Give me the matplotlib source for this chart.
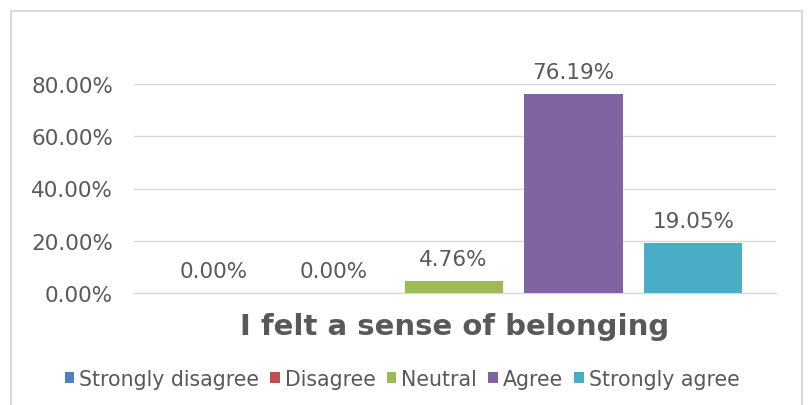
import matplotlib
matplotlib.use("Agg")
import matplotlib.pyplot as plt
from matplotlib.patches import Rectangle
from matplotlib.ticker import FuncFormatter, MultipleLocator

# Survey responses for one statement
question = "I felt a sense of belonging"
responses = ["Strongly disagree", "Disagree", "Neutral", "Agree", "Strongly agree"]
shares = [0.0, 0.0, 4.76, 76.19, 19.05]
colors = ["#4F81BD", "#C0504D", "#9BBB59", "#8064A2", "#4BACC6"]

text_color = "#595959"
grid_color = "#D9D9D9"

plt.rcParams["font.family"] = ["DejaVu Sans"]

W, H = 809, 406
fig = plt.figure(figsize=(W / 100, H / 100), dpi=100)

# Light chart-area border
fig.patches.append(Rectangle((11 / W, -0.02), (802 - 11) / W, 1 - 12 / H + 0.02,
                             transform=fig.transFigure, fill=False,
                             edgecolor="#D9D9D9", linewidth=1.5))

ax = fig.add_axes([134 / W, 1 - 294 / H, (776 - 134) / W, (294 - 85) / H])

positions = list(range(len(responses)))
bars = []
for pos, label, val, col in zip(positions, responses, shares, colors):
    b = ax.bar(pos, val / 100, width=0.82, color=col, label=label, zorder=3)
    bars.append(b)
    ax.annotate(f"{val:.2f}%", xy=(pos, val / 100), xytext=(0, 12),
                textcoords="offset pixels", ha="center", va="bottom",
                fontsize=15.5, color=text_color, annotation_clip=False)

ax.set_xlim(-0.668, 4.691)
ax.set_ylim(0, 0.8)
ax.yaxis.set_major_locator(MultipleLocator(0.2))
ax.yaxis.set_major_formatter(FuncFormatter(lambda v, _: f"{v * 100:.2f}%"))
ax.set_xticks([])
ax.tick_params(axis="y", length=0, pad=15, labelsize=15.5, labelcolor=text_color)
ax.grid(axis="y", color=grid_color, linewidth=1, zorder=0)
for side in ("top", "right", "left"):
    ax.spines[side].set_visible(False)
ax.spines["bottom"].set_color(grid_color)
ax.spines["bottom"].set_linewidth(1)

ax.set_xlabel(question, fontsize=21, fontweight="bold", color=text_color, labelpad=14)

fig.legend(handles=[b[0] for b in bars], labels=responses,
           loc="center", bbox_to_anchor=(402 / W, 1 - 380 / H), ncol=5,
           frameon=False, fontsize=14.8, labelcolor=text_color,
           handlelength=0.45, handleheight=0.45, handletextpad=0.25,
           columnspacing=0.55, borderaxespad=0)

fig.savefig("out.png", dpi=100)
